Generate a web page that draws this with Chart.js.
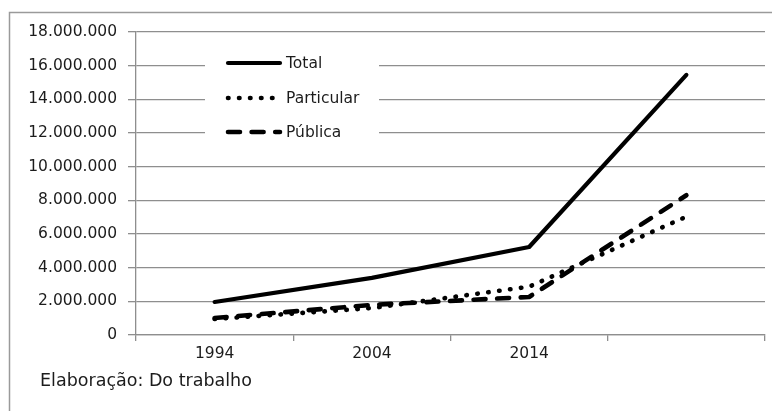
<!DOCTYPE html>
<html>
<head>
<meta charset="utf-8">
<script src="https://cdn.jsdelivr.net/npm/chart.js@4.4.0/dist/chart.umd.min.js"></script>
<style>
  html, body { margin: 0; padding: 0; background: #fff; }
  #wrap { width: 772px; height: 411px; }
</style>
</head>
<body>
<div id="wrap"><canvas id="c" width="772" height="411"></canvas></div>
<script>
// Matrículas por ano
const years = ['1994', '2004', '2014', ''];
const total = [1960000, 3390000, 5230000, 15450000];
const particular = [950000, 1600000, 2870000, 7030000];
const publica = [1010000, 1790000, 2260000, 8300000];
const yTicks = [0, 2000000, 4000000, 6000000, 8000000, 10000000, 12000000, 14000000, 16000000, 18000000];
const caption = 'Elaboração: Do trabalho';

const GRID = '#8e8e8e';
const TEXT = '#1c1c1c';
const FONT = '"DejaVu Sans", sans-serif';

function fmt(v) {
  return String(v).replace(/\B(?=(\d{3})+(?!\d))/g, '.');
}

// outer frame and source note
const framePlugin = {
  id: 'frame',
  beforeDraw(chart) {
    const ctx = chart.ctx;
    ctx.save();
    ctx.fillStyle = '#fff';
    ctx.fillRect(0, 0, chart.width, chart.height);
    ctx.strokeStyle = '#9a9a9a';
    ctx.lineWidth = 1.5;
    ctx.strokeRect(9.5, 12.5, chart.width + 20, chart.height + 20);
    ctx.restore();
  },
  afterDraw(chart) {
    const ctx = chart.ctx;
    ctx.save();
    ctx.fillStyle = TEXT;
    ctx.font = '17.5px ' + FONT;
    ctx.textBaseline = 'alphabetic';
    ctx.textAlign = 'left';
    ctx.fillText(caption, 40, 386);
    ctx.restore();
  }
};

// legend box sitting inside the plot, over the upper gridlines
const insideLegend = {
  id: 'insideLegend',
  beforeDatasetsDraw(chart) {
    const ctx = chart.ctx;
    const top = chart.chartArea.top;
    const rows = [31, 66, 100];
    ctx.save();
    ctx.fillStyle = '#fff';
    ctx.fillRect(205, top + 14, 174, 102);
    chart.data.datasets.forEach((ds, i) => {
      const yy = top + rows[i];
      ctx.strokeStyle = ds.borderColor;
      ctx.lineWidth = ds.borderWidth;
      ctx.lineCap = 'round';
      ctx.setLineDash(ds.borderDash || []);
      ctx.beginPath();
      ctx.moveTo(228, yy);
      ctx.lineTo(i === 1 ? 274 : 280, yy);
      ctx.stroke();
      ctx.setLineDash([]);
      ctx.fillStyle = TEXT;
      ctx.font = '15.5px ' + FONT;
      ctx.textBaseline = 'middle';
      ctx.textAlign = 'left';
      ctx.fillText(ds.label, 286, yy + 1);
    });
    ctx.restore();
  }
};

new Chart(document.getElementById('c'), {
  type: 'line',
  data: {
    labels: years,
    datasets: [
      {
        label: 'Total',
        data: total,
        borderColor: '#000',
        borderWidth: 4.2,
        borderCapStyle: 'round',
        borderJoinStyle: 'round',
        pointRadius: 0,
        tension: 0,
        fill: false
      },
      {
        label: 'Particular',
        data: particular,
        borderColor: '#000',
        borderWidth: 4.6,
        borderDash: [0.5, 10.5],
        borderCapStyle: 'round',
        borderJoinStyle: 'round',
        pointRadius: 0,
        tension: 0,
        fill: false
      },
      {
        label: 'Pública',
        data: publica,
        borderColor: '#000',
        borderWidth: 4.6,
        borderDash: [12, 11.6],
        borderCapStyle: 'round',
        borderJoinStyle: 'round',
        pointRadius: 0,
        tension: 0,
        fill: false
      }
    ]
  },
  options: {
    responsive: false,
    animation: false,
    layout: { padding: { top: 32, right: 7, bottom: 0, left: 0 } },
    plugins: {
      legend: { display: false },
      tooltip: { enabled: false },
      title: { display: false }
    },
    scales: {
      x: {
        type: 'category',
        offset: true,
        afterFit(scale) { scale.height = 76; },
        grid: {
          offset: true,
          drawOnChartArea: false,
          drawTicks: true,
          tickLength: 6,
          color: GRID,
          lineWidth: 1.3
        },
        border: { display: true, color: GRID, width: 1.3 },
        ticks: {
          color: TEXT,
          font: { family: FONT, size: 15.5 },
          padding: 4,
          maxRotation: 0,
          autoSkip: false
        }
      },
      y: {
        min: 0,
        max: 18000000,
        afterFit(scale) { scale.width = 136; },
        afterBuildTicks(scale) { scale.ticks = yTicks.map(v => ({ value: v })); },
        grid: {
          drawOnChartArea: true,
          drawTicks: true,
          tickLength: 8,
          color: GRID,
          lineWidth: 1.3
        },
        border: { display: true, color: GRID, width: 1.3 },
        ticks: {
          color: TEXT,
          font: { family: FONT, size: 15.5 },
          padding: 11,
          callback: (v) => fmt(v)
        }
      }
    }
  },
  plugins: [framePlugin, insideLegend]
});
</script>
</body>
</html>
